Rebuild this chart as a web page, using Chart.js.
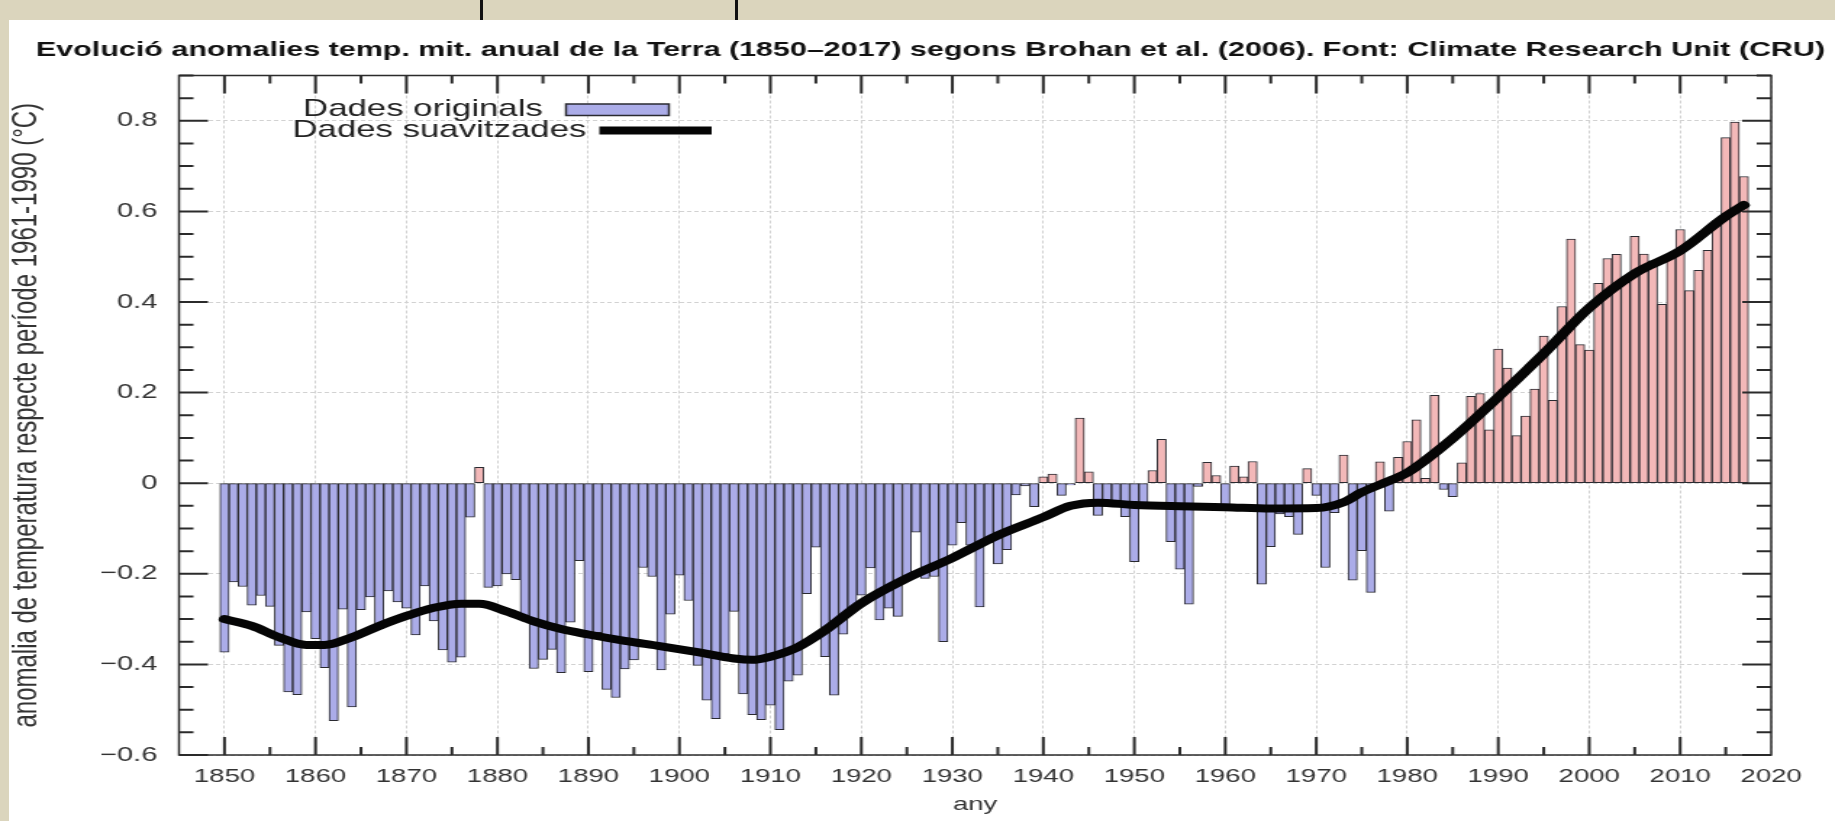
<!DOCTYPE html>
<html>
<head>
<meta charset="utf-8">
<title>Anomalies temperatura 1850-2017</title>
<script src="https://cdn.jsdelivr.net/npm/chart.js@4.4.1/dist/chart.umd.min.js"></script>
<style>
  html, body { margin: 0; padding: 0; }
  body { width: 1835px; height: 821px; background: #dbd5bd; position: relative; overflow: hidden; }
  #paper { position: absolute; left: 9px; top: 20px; right: 0; bottom: 0; background: #fff; }
  .mark { position: absolute; top: 0; width: 3px; height: 20px; background: #111; }
  /* the original picture is stretched sideways, so the chart is drawn narrower and widened */
  #wrap { position: absolute; left: 0; top: 0; width: 1266px; height: 821px; transform: scaleX(1.4494); transform-origin: 0 0; }
</style>
</head>
<body>
<div id="paper"></div>
<div class="mark" style="left:480px"></div>
<div class="mark" style="left:735px"></div>
<div id="wrap"><canvas id="chart"></canvas></div>
<script>
const titleText = "Evolució anomalies temp. mit. anual de la Terra (1850\u20132017) segons Brohan et al. (2006). Font: Climate Research Unit (CRU)";
const yTitle = "anomalia de temperatura respecte període 1961-1990 (°C)";
const xTitle = "any";
const seriesNames = ["Dades originals", "Dades suavitzades"];
const yTicks = [-0.6, -0.4, -0.2, 0, 0.2, 0.4, 0.6, 0.8];

const firstYear = 1850;
// anomalia anual (°C), 1850..2017
const anomalies = [
  -0.373, -0.218, -0.228, -0.269, -0.248, -0.272, -0.358, -0.461, -0.467, -0.284,
  -0.343, -0.407, -0.524, -0.278, -0.494, -0.279, -0.251, -0.321, -0.238, -0.262,
  -0.276, -0.335, -0.227, -0.304, -0.368, -0.395, -0.384, -0.075, 0.035, -0.230,
  -0.227, -0.200, -0.213, -0.296, -0.409, -0.389, -0.367, -0.418, -0.307, -0.171,
  -0.416, -0.330, -0.455, -0.473, -0.410, -0.390, -0.186, -0.206, -0.412, -0.289,
  -0.203, -0.259, -0.402, -0.479, -0.520, -0.377, -0.283, -0.465, -0.511, -0.522,
  -0.490, -0.544, -0.437, -0.424, -0.244, -0.141, -0.383, -0.468, -0.333, -0.275,
  -0.247, -0.187, -0.302, -0.276, -0.294, -0.215, -0.108, -0.210, -0.206, -0.350,
  -0.137, -0.087, -0.137, -0.273, -0.131, -0.178, -0.147, -0.026, -0.006, -0.052,
  0.014, 0.020, -0.027, -0.004, 0.144, 0.025, -0.071, -0.038, -0.039, -0.074,
  -0.173, -0.052, 0.028, 0.097, -0.129, -0.190, -0.267, -0.007, 0.046, 0.017,
  -0.049, 0.038, 0.014, 0.048, -0.223, -0.140, -0.068, -0.074, -0.113, 0.032,
  -0.027, -0.186, -0.065, 0.062, -0.214, -0.149, -0.241, 0.047, -0.062, 0.057,
  0.092, 0.140, 0.011, 0.194, -0.014, -0.030, 0.045, 0.192, 0.198, 0.118,
  0.296, 0.254, 0.105, 0.148, 0.208, 0.325, 0.183, 0.390, 0.539, 0.306,
  0.294, 0.441, 0.496, 0.505, 0.447, 0.545, 0.506, 0.491, 0.395, 0.506,
  0.560, 0.425, 0.470, 0.514, 0.579, 0.763, 0.797, 0.677
];
const years = anomalies.map((_, i) => firstYear + i);

// corba suavitzada, llegida del gràfic
const smoothYears = [1850, 1853, 1856, 1859, 1861, 1864, 1867, 1870, 1873, 1876, 1878, 1881, 1884, 1887,
  1890, 1894, 1898, 1902, 1906, 1908, 1910, 1913, 1916, 1920, 1925, 1930, 1935, 1940, 1943, 1946,
  1950, 1955, 1960, 1965, 1970, 1973, 1975, 1978, 1980, 1985, 1990, 1995, 2000, 2005, 2010, 2015, 2017];
const smoothValues = [-0.300, -0.315, -0.340, -0.357, -0.357, -0.340, -0.315, -0.293, -0.275, -0.266, -0.266, -0.283, -0.305, -0.322,
  -0.334, -0.348, -0.360, -0.373, -0.387, -0.390, -0.383, -0.362, -0.325, -0.265, -0.210, -0.165, -0.115, -0.075, -0.050, -0.043,
  -0.048, -0.051, -0.053, -0.056, -0.055, -0.042, -0.020, 0.005, 0.023, 0.099, 0.190, 0.286, 0.387, 0.463, 0.513, 0.589, 0.614];

const blueFill = "#abace8";
const pinkFill = "#f3b8b8";
const barEdge = "#2a2a30";

Chart.defaults.font.family = "'Liberation Sans', Arial, sans-serif";
Chart.defaults.color = "#222";

// marc i marques interiors a l'estil gnuplot
const frameTicks = {
  id: "frameTicks",
  afterDraw(chart) {
    const { ctx, chartArea: a, scales: { x, y } } = chart;
    ctx.save();
    ctx.strokeStyle = "#2b2b2b";
    ctx.lineWidth = 2;
    ctx.beginPath();
    for (let i = 0; i <= 30; i++) {
      const py = y.getPixelForValue(-0.6 + i * 0.05);
      const len = i % 4 === 0 ? 20 : 10;
      ctx.moveTo(a.left, py); ctx.lineTo(a.left + len, py);
      ctx.moveTo(a.right, py); ctx.lineTo(a.right - len, py);
    }
    for (let yr = 1850; yr < 2020; yr += 5) {
      const px = x.getPixelForValue(yr);
      const len = yr % 10 === 0 ? 18 : 8;
      ctx.moveTo(px, a.bottom); ctx.lineTo(px, a.bottom - len);
      ctx.moveTo(px, a.top); ctx.lineTo(px, a.top + len);
    }
    ctx.stroke();
    ctx.lineWidth = 1.5;
    ctx.strokeRect(a.left, a.top, a.right - a.left, a.bottom - a.top);
    ctx.restore();
  }
};

// llegenda: text a l'esquerra, mostra a la dreta
const gnuplotKey = {
  id: "gnuplotKey",
  afterDraw(chart) {
    const { ctx, chartArea: a } = chart;
    const ds = chart.data.datasets;
    ctx.save();
    ctx.font = "24px 'Liberation Sans', Arial, sans-serif";
    ctx.fillStyle = "#222";
    ctx.textAlign = "right";
    ctx.textBaseline = "middle";
    ctx.fillText(ds[0].label, a.left + 251, a.top + 34);
    ctx.fillText(ds[1].label, a.left + 281, a.top + 55);
    ctx.fillStyle = blueFill;
    ctx.strokeStyle = barEdge;
    ctx.lineWidth = 1.5;
    ctx.fillRect(a.left + 267, a.top + 28.5, 71, 11.5);
    ctx.strokeRect(a.left + 267, a.top + 28.5, 71, 11.5);
    ctx.strokeStyle = ds[1].borderColor;
    ctx.lineWidth = ds[1].borderWidth;
    ctx.beginPath();
    ctx.moveTo(a.left + 290, a.top + 55);
    ctx.lineTo(a.left + 367.5, a.top + 55);
    ctx.stroke();
    ctx.restore();
  }
};

new Chart(document.getElementById("chart"), {
  type: "bar",
  data: {
    datasets: [
      {
        label: seriesNames[0],
        data: anomalies.map((v, i) => ({ x: years[i], y: v })),
        backgroundColor: c => (c.raw && c.raw.y >= 0 ? pinkFill : blueFill),
        borderColor: barEdge,
        borderWidth: 1,
        borderSkipped: false,
        barPercentage: 1,
        categoryPercentage: 1,
        order: 2
      },
      {
        type: "line",
        label: seriesNames[1],
        data: smoothYears.map((yr, i) => ({ x: yr, y: smoothValues[i] })),
        borderColor: "#050505",
        borderWidth: 8,
        borderCapStyle: "round",
        pointRadius: 0,
        cubicInterpolationMode: "monotone",
        order: 1
      }
    ]
  },
  options: {
    responsive: true,
    maintainAspectRatio: false,
    animation: false,
    events: [],
    layout: { padding: { left: 18, right: 0, top: 0, bottom: 2 } },
    plugins: {
      legend: { display: false },
      tooltip: { enabled: false },
      title: {
        display: true,
        text: titleText,
        color: "#111",
        font: { size: 21, weight: "bold" },
        padding: { top: 37.4, bottom: 12.9 }
      }
    },
    scales: {
      x: {
        type: "linear",
        min: 1845,
        max: 2020,
        offset: false,
        afterFit: s => { s.height = 64; },
        grid: { color: "#d2d2d2", offset: false, drawTicks: false },
        border: { display: false, dash: [3, 2] },
        ticks: {
          stepSize: 10,
          includeBounds: false,
          autoSkip: false,
          maxRotation: 0,
          padding: 10,
          color: "#333",
          font: { size: 19 },
          callback: v => String(v)
        },
        title: { display: true, text: xTitle, color: "#333", font: { size: 19 }, padding: { top: 0, bottom: 2.6 } }
      },
      y: {
        min: -0.6,
        max: 0.9,
        afterFit: s => { s.width = 105.5; },
        afterBuildTicks: s => { s.ticks = yTicks.map(v => ({ value: v })); },
        grid: { color: "#d2d2d2", drawTicks: false },
        border: { display: false, dash: [3, 2] },
        ticks: {
          padding: 15,
          color: "#333",
          font: { size: 20 },
          callback: v => (Math.abs(v) < 1e-9 ? "0" : v.toFixed(1).replace("-", "\u2212"))
        },
        title: { display: true, text: yTitle, color: "#333", font: { size: 24 }, padding: { top: -14, bottom: 0 } }
      },
      y2: {
        position: "right",
        afterFit: s => { s.width = 44; },
        grid: { drawOnChartArea: false, drawTicks: false },
        border: { display: false },
        ticks: { display: false }
      }
    }
  },
  plugins: [frameTicks, gnuplotKey]
});
</script>
</body>
</html>
